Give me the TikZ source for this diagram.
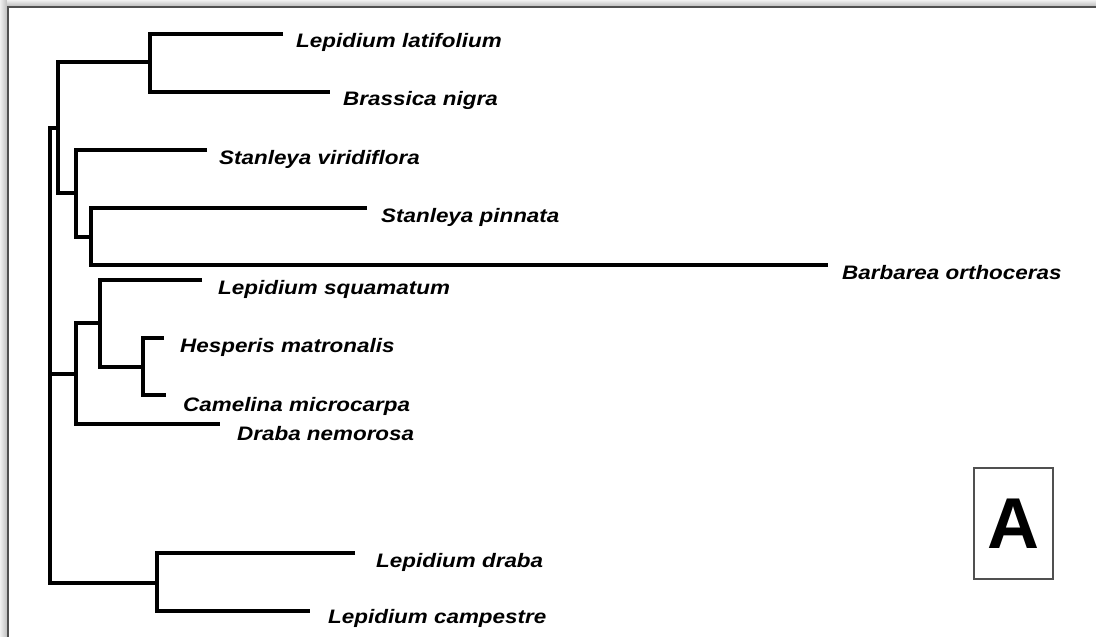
\documentclass[tikz,border=0pt]{standalone}
\usepackage{fontspec}
\setmainfont{Liberation Sans}
\newfontfamily\taxfont[FakeStretch=1.15]{Liberation Sans}
\usepackage{tikz}
\definecolor{framegray}{RGB}{80,80,80}

\begin{document}
\begin{tikzpicture}[x=1pt,y=-1pt,
 br/.style={line width=3.4pt,line join=miter},
 taxon/.style={anchor=base west,inner sep=0pt,font=\taxfont\bfseries\itshape\fontsize{19.5}{20}\selectfont}]
 \useasboundingbox (0,0) rectangle (1096,637);
 % frame with shadow
 \shade[left color=gray!12,right color=gray!50] (0,0) rectangle (7,637);
 \shade[top color=gray!12,bottom color=gray!50] (7,0) rectangle (1096,6);
 \draw[framegray,line width=2pt] (8,637) |- (1096,7);
 % tips
 \coordinate (tLat) at (283,34);
 \coordinate (tBras) at (330,92);
 \coordinate (tSvir) at (207,150);
 \coordinate (tSpin) at (367,208);
 \coordinate (tBarb) at (828,265);
 \coordinate (tLsq) at (202,280);
 \coordinate (tHesp) at (164,338);
 \coordinate (tCam) at (166,395);
 \coordinate (tDnem) at (220,424);
 \coordinate (tLdr) at (355,553);
 \coordinate (tLcam) at (310,611);
 % internal nodes
 \coordinate (nb) at (150,62);
 \coordinate (nd) at (91,237);
 \coordinate (nc) at (76,193);
 \coordinate (na) at (58,128);
 \coordinate (ng) at (143,367);
 \coordinate (nf) at (100,323);
 \coordinate (ne) at (76,374);
 \coordinate (nh) at (157,583);
 \coordinate (nr) at (50,350);
 % branches
 \draw[br] (tLat) -| (nb) |- (tBras);
 \draw[br] (tSpin) -| (nd) |- (tBarb);
 \draw[br] (tSvir) -| (nc) |- (nd);
 \draw[br] (nb) -| (na) |- (nc);
 \draw[br] (tHesp) -| (ng) |- (tCam);
 \draw[br] (tLsq) -| (nf) |- (ng);
 \draw[br] (nf) -| (ne) |- (tDnem);
 \draw[br] (tLdr) -| (nh) |- (tLcam);
 \draw[br] (na) -| (nr) |- (nh);
 \draw[br] (nr) |- (ne);
 % labels
 \node[taxon] (Lat) at (296,47) {Lepidium latifolium};
 \node[taxon] (Bras) at (343,105) {Brassica nigra};
 \node[taxon] (Svir) at (219,164) {Stanleya viridiflora};
 \node[taxon] (Spin) at (381,222) {Stanleya pinnata};
 \node[taxon] (Barb) at (842,279) {Barbarea orthoceras};
 \node[taxon] (Lsq) at (218,294) {Lepidium squamatum};
 \node[taxon] (Hesp) at (180,352) {Hesperis matronalis};
 \node[taxon] (Cam) at (183,411) {Camelina microcarpa};
 \node[taxon] (Dnem) at (237,440) {Draba nemorosa};
 \node[taxon] (Ldr) at (376,567) {Lepidium draba};
 \node[taxon] (Lcam) at (328,623) {Lepidium campestre};
 % panel letter
 \node[draw=framegray,line width=1.5pt,minimum width=79pt,minimum height=111pt,inner sep=0pt,
  font=\bfseries\fontsize{72}{72}\selectfont] (panel) at (1013.5,523.5) {A};
\end{tikzpicture}
\end{document}
